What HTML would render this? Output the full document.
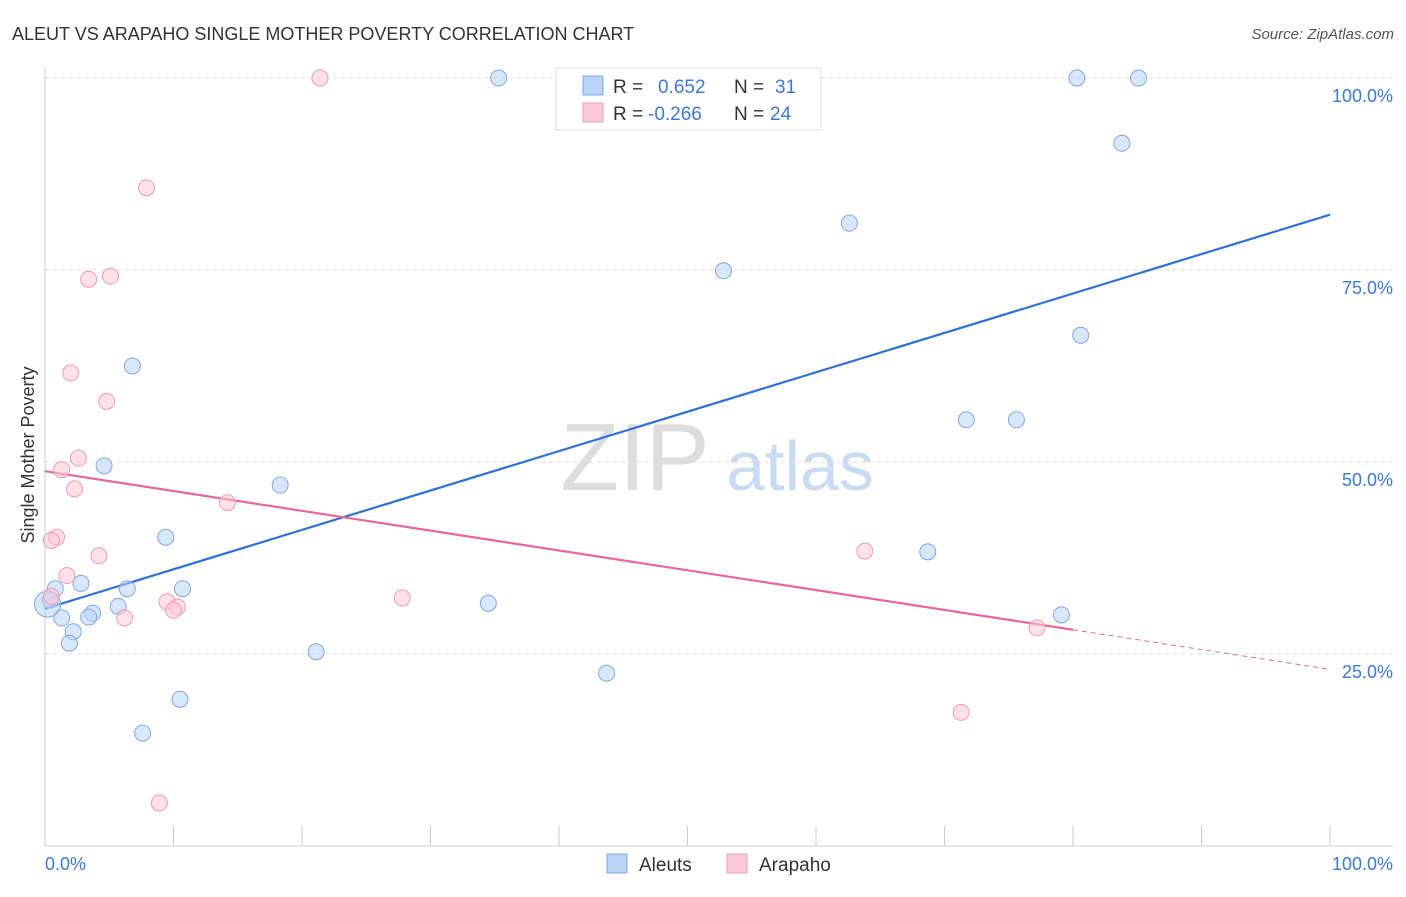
<!DOCTYPE html>
<html><head><meta charset="utf-8"><style>
body{margin:0;background:#fff;font-family:"Liberation Sans",sans-serif;}
svg text{font-family:"Liberation Sans",sans-serif;}
</style></head><body>
<svg id="chart" width="1406" height="892">
<text x="12" y="40" font-size="18" fill="#333">ALEUT VS ARAPAHO SINGLE MOTHER POVERTY CORRELATION CHART</text>
<text x="1394" y="39" font-size="15" fill="#555" text-anchor="end" font-style="italic">Source: ZipAtlas.com</text>
<g id="grid"></g>
<text x="635" y="490" font-size="96" fill="#ddd" font-family="Liberation Serif" text-anchor="middle">ZIP</text>
<text x="800" y="490" font-size="70" fill="#c9dbf3" text-anchor="middle">atlas</text>
<line x1="45" y1="68" x2="45" y2="846" stroke="#ccc"/>
<line x1="45" y1="846" x2="1393" y2="846" stroke="#ccc"/>
<g id="xticks"></g>
<text x="45" y="870" font-size="18" fill="#3b78d8">0.0%</text>
<text x="1393" y="870" font-size="18" fill="#3b78d8" text-anchor="end">100.0%</text>
<text transform="translate(34,455) rotate(-90)" font-size="18" fill="#333" text-anchor="middle">Single Mother Poverty</text>
<g id="lines"></g>
<g id="points"></g>
<g>
<rect x="556" y="68" width="265" height="62" fill="#fff" stroke="#ddd"/>
<rect x="583" y="76" width="20" height="19" fill="#b9d3f5" stroke="#7ea8e6"/>
<rect x="583" y="103" width="20" height="19" fill="#fbc9d7" stroke="#f19ab5"/>
<text x="613" y="93" font-size="19" fill="#333">R = <tspan x="658" fill="#3b78d8">0.652</tspan><tspan x="734">N = </tspan><tspan x="775" fill="#3b78d8">31</tspan></text>
<text x="613" y="120" font-size="19" fill="#333">R = <tspan x="648" fill="#3b78d8">-0.266</tspan><tspan x="734">N = </tspan><tspan x="770" fill="#3b78d8">24</tspan></text>
</g>
<g>
<rect x="607" y="854" width="20" height="19" fill="#b9d3f5" stroke="#7ea8e6"/>
<text x="639" y="871" font-size="19" fill="#333">Aleuts</text>
<rect x="727" y="854" width="20" height="19" fill="#fbc9d7" stroke="#f19ab5"/>
<text x="759" y="871" font-size="19" fill="#333">Arapaho</text>
</g>
</svg>
<script>
const yTicks=[25,50,75,100];
const yTickLabels=["25.0%","50.0%","75.0%","100.0%"];
const xTicks=[0,10,20,30,40,50,60,70,80,90,100];
const aleutX=[35.3,80.3,85.1,83.8,62.6,52.8,80.6,6.8,71.7,75.6,4.6,18.3,9.4,68.7,2.8,6.4,10.7,0.8,0.4,34.5,5.7,3.7,1.3,3.4,79.1,2.2,1.9,21.1,43.7,10.5,7.6,0.2];
const aleutY=[100,100,100,91.5,81.1,74.9,66.5,62.5,55.5,55.5,49.5,47,40.2,38.3,34.2,33.5,33.5,33.5,32,31.6,31.2,30.3,29.7,29.8,30.1,27.9,26.4,25.3,22.5,19.1,14.7,31.5];
const arapahoX=[21.4,7.9,5.1,3.4,2.0,4.8,2.6,1.3,2.3,14.2,0.9,0.5,4.2,63.8,1.7,27.8,9.5,10.3,10.0,6.2,77.2,71.3,8.9,0.5];
const arapahoY=[100,85.7,74.2,73.8,61.6,57.9,50.5,49,46.5,44.7,40.2,39.8,37.8,38.4,35.2,32.3,31.8,31.1,30.7,29.7,28.4,17.4,5.6,32.5];
const aleutTrend=[30.9,82.2];
const arapahoTrend=[48.8,23.0];
const arapahoSolidEnd=80;
const X=v=>45+v*12.85, Y=v=>846-v*7.68;
const NS="http://www.w3.org/2000/svg";
function mk(t,a,p){const e=document.createElementNS(NS,t);for(const k in a)e.setAttribute(k,a[k]);document.getElementById(p).appendChild(e);return e;}
yTicks.forEach((t,i)=>{
 const l=mk('line',{x1:45,x2:1393,y1:Y(t),y2:Y(t),stroke:'#ddd','stroke-dasharray':'4,4'},'grid');
 
 
 const tx=mk('text',{x:1393,y:Y(t)+24,'font-size':18,fill:'#3b78d8','text-anchor':'end'},'grid');
 tx.textContent=yTickLabels[i];
 
 
});
xTicks.forEach(t=>{
 const l=mk('line',{x1:X(t),x2:X(t),y1:826,y2:846,stroke:'#ccc'},'xticks');
 
 
});
function pts(xs,ys,fill,stroke,name,bigIdx){xs.forEach((x,i)=>{
 const c=mk('circle',{cx:X(x),cy:Y(ys[i]),r:(i===bigIdx?13:8),fill:fill,'fill-opacity':0.55,stroke:stroke,'stroke-width':1},'points');
 
 
});}
pts(aleutX,aleutY,'#b9d3f5','#7ea8e6','aleut-point',aleutX.length-1);
pts(arapahoX,arapahoY,'#fbc9d7','#f19ab5','arapaho-point',-1);
const bl=mk('line',{x1:X(0),y1:Y(aleutTrend[0]),x2:X(100),y2:Y(aleutTrend[1]),stroke:'#2f72d6','stroke-width':2.2},'lines');


const pAt=v=>arapahoTrend[0]+(arapahoTrend[1]-arapahoTrend[0])*v/100;
const pl=mk('line',{x1:X(0),y1:Y(pAt(0)),x2:X(arapahoSolidEnd),y2:Y(pAt(arapahoSolidEnd)),stroke:'#e8669a','stroke-width':2.2},'lines');


const pd=mk('line',{x1:X(arapahoSolidEnd),y1:Y(pAt(arapahoSolidEnd)),x2:X(100),y2:Y(pAt(100)),stroke:'#e8669a','stroke-width':1,'stroke-dasharray':'5,4'},'lines');


</script>
</body></html>
